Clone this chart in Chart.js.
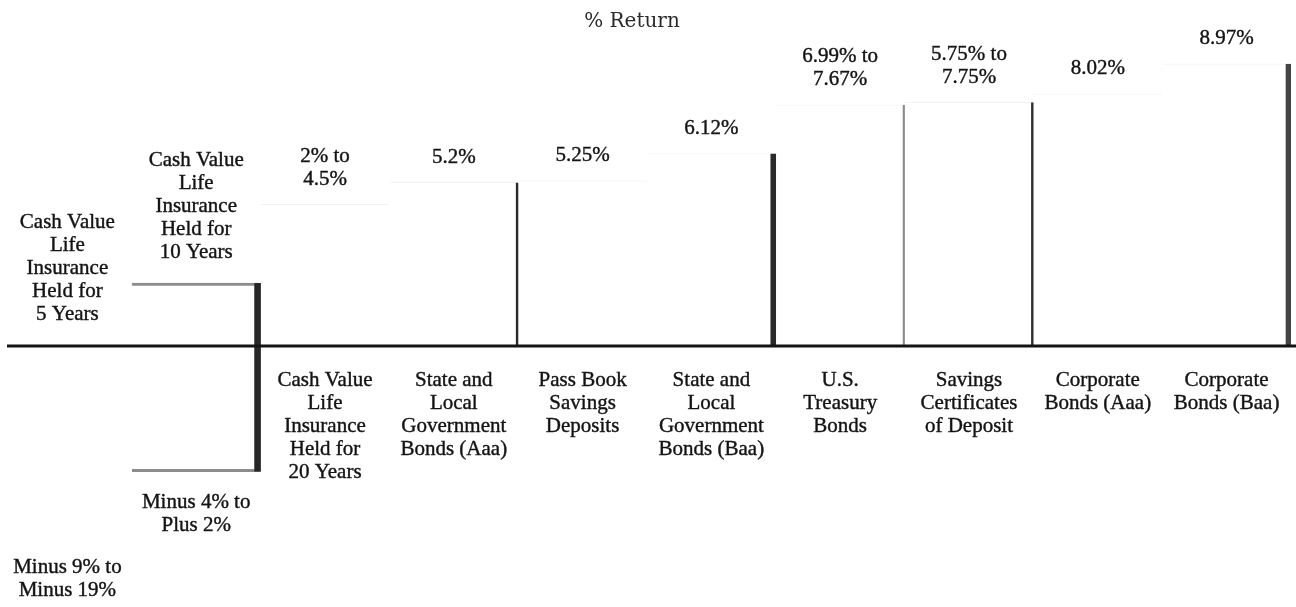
<!DOCTYPE html>
<html>
<head>
<meta charset="utf-8">
<title>% Return</title>
<script src="https://cdn.jsdelivr.net/npm/chart.js@4/dist/chart.umd.min.js"></script>
<style>
  html, body { margin: 0; padding: 0; background: #fff; }
  #wrap { width: 1296px; height: 607px; position: relative; }
</style>
</head>
<body>
<div id="wrap"><canvas id="chart"></canvas></div>
<script>
// investment types, one column each (lines as printed)
const categories = [
  ["Cash Value", "Life", "Insurance", "Held for", "5 Years"],
  ["Cash Value", "Life", "Insurance", "Held for", "10 Years"],
  ["Cash Value", "Life", "Insurance", "Held for", "20 Years"],
  ["State and", "Local", "Government", "Bonds (Aaa)"],
  ["Pass Book", "Savings", "Deposits"],
  ["State and", "Local", "Government", "Bonds (Baa)"],
  ["U.S.", "Treasury", "Bonds"],
  ["Savings", "Certificates", "of Deposit"],
  ["Corporate", "Bonds (Aaa)"],
  ["Corporate", "Bonds (Baa)"]
];

// % return, low and high end of each range
const lowReturn  = [-19, -4, 2, 5.2, 5.25, 6.12, 6.99, 5.75, 8.02, 8.97];
const highReturn = [-9, 2, 4.5, 5.2, 5.25, 6.12, 7.67, 7.75, 8.02, 8.97];

const returnLabels = [
  ["Minus 9% to", "Minus 19%"],
  ["Minus 4% to", "Plus 2%"],
  ["2% to", "4.5%"],
  ["5.2%"],
  ["5.25%"],
  ["6.12%"],
  ["6.99% to", "7.67%"],
  ["5.75% to", "7.75%"],
  ["8.02%"],
  ["8.97%"]
];

const yMin = -8.3;
const yMax = 11;

const FONT = '21px "Liberation Serif", "Times New Roman", serif';
const LINE = 23;
const INK = '#141414';

// bars start at zero unless the range goes below zero
const bars = categories.map((c, i) =>
  lowReturn[i] < 0 ? [lowReturn[i], highReturn[i]] : [0, highReturn[i]]);

// only some edges survived in the print
const rightEdge = [0, 6, 0, 2, 0, 5, 1.5, 2, 0, 5];
const rightEdgeColor = ['#222', '#262626', '#222', '#2a2a2a', '#222', '#2a2a2a', '#8a8a8a', '#333', '#222', '#444'];

function drawLines(ctx, lines, cx, firstY) {
  lines.forEach((t, k) => {
    ctx.fillText(t, cx, firstY + k * LINE);
    ctx.strokeText(t, cx, firstY + k * LINE);
  });
}

const labelPlugin = {
  id: 'returnLabels',
  afterDatasetsDraw(chart) {
    const { ctx, chartArea, scales: { x, y } } = chart;
    const zero = y.getPixelForValue(0);
    ctx.save();

    // zero line
    ctx.strokeStyle = INK;
    ctx.lineWidth = 3;
    ctx.beginPath();
    ctx.moveTo(7, zero);
    ctx.lineTo(chart.width, zero);
    ctx.stroke();

    ctx.fillStyle = INK;
    ctx.strokeStyle = INK;
    ctx.lineWidth = 0.4;
    ctx.textAlign = 'center';
    ctx.textBaseline = 'middle';
    ctx.font = FONT;

    categories.forEach((name, i) => {
      const cx = x.getPixelForValue(i);
      const top = y.getPixelForValue(highReturn[i]);
      const vals = returnLabels[i];
      if (lowReturn[i] < 0) {
        // name above, range below
        const last = Math.min(top, zero) - 31;
        drawLines(ctx, name, cx, last - (name.length - 1) * LINE);
        const first = Math.min(y.getPixelForValue(lowReturn[i]) + 31, chartArea.bottom - 40);
        drawLines(ctx, vals, cx, first);
      } else {
        drawLines(ctx, vals, cx, top - 25 - (vals.length - 1) * LINE);
        drawLines(ctx, name, cx, zero + 35);
      }
    });

    // title
    ctx.font = '20px "DejaVu Serif", serif';
    ctx.fillStyle = '#2a2a2a';
    ctx.fillText('% Return', chart.width / 2 - 16, 22);
    ctx.restore();
  }
};

new Chart(document.getElementById('chart'), {
  type: 'bar',
  data: {
    labels: categories.map(c => c.join(' ')),
    datasets: [
      {
        // dark right edges (index 0 is drawn last, on top)
        data: bars,
        grouped: false,
        backgroundColor: 'rgba(0,0,0,0)',
        borderColor: ctx => rightEdgeColor[ctx.dataIndex],
        borderWidth: ctx => ({ top: 0, right: rightEdge[ctx.dataIndex], bottom: 0, left: 0 }),
        borderSkipped: false,
        categoryPercentage: 1,
        barPercentage: 1
      },
      {
        // faint outline
        data: bars,
        grouped: false,
        backgroundColor: '#fff',
        borderColor: ctx => ctx.dataIndex === 1 ? '#8c8c8c' : '#f3f3f3',
        borderWidth: ctx => ctx.dataIndex === 1
          ? { top: 3, right: 0, bottom: 3, left: 0 }
          : { top: 1, right: 0, bottom: 0, left: 0 },
        borderSkipped: false,
        categoryPercentage: 1,
        barPercentage: 1
      }
    ]
  },
  options: {
    responsive: true,
    maintainAspectRatio: false,
    animation: false,
    layout: { padding: { left: 3, right: 5, top: 0, bottom: 0 } },
    plugins: {
      legend: { display: false },
      tooltip: { enabled: false },
      title: { display: false }
    },
    scales: {
      x: { display: false },
      y: { display: false, min: yMin, max: yMax }
    }
  },
  plugins: [labelPlugin]
});
</script>
</body>
</html>
